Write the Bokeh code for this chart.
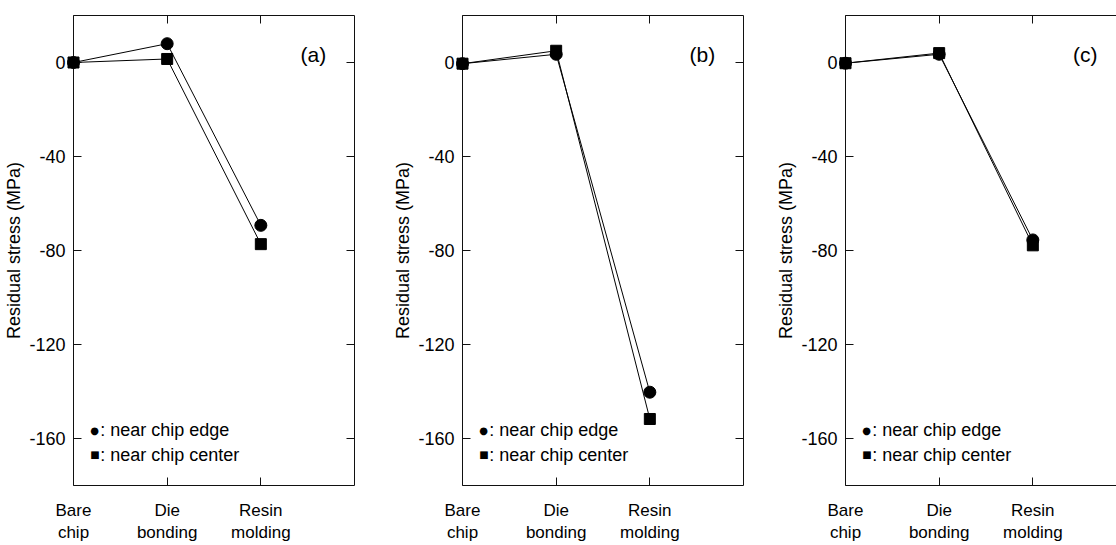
from bokeh.plotting import figure
from bokeh.layouts import row
from bokeh.models import LinearAxis, FixedTicker, Range1d
from bokeh.core.properties import value
from bokeh.embed import file_html
from bokeh.resources import INLINE

# ---- data -------------------------------------------------------------
stages = ["Bare\nchip", "Die\nbonding", "Resin\nmolding"]
stage_x = [0, 1, 2]
panel_tags = ["(a)", "(b)", "(c)"]
edge_a = [0.0, 8.0, -69.3]
center_a = [0.0, 1.5, -77.3]
edge_b = [-0.5, 3.5, -140.3]
center_b = [-0.5, 5.0, -151.7]
edge_c = [-0.3, 3.5, -75.5]
center_c = [-0.3, 4.0, -77.8]
y_ticks = [0, -40, -80, -120, -160]
y_tick_labels = ["0", "-40", "-80", "-120", "-160"]
legend_symbols = ["●", "■"]
legend_labels = [": near chip edge", ": near chip center"]
y_label = "Residual stress (MPa)"

FONT = "Liberation Sans"
AX = "#111111"


def make_panel(tag, edge, center, width, border_right, x_end, right_axis):
    p = figure(width=width, height=545, x_range=Range1d(0, x_end),
               y_range=Range1d(-180, 20), output_backend="svg",
               toolbar_location=None, min_border_left=73,
               min_border_right=border_right, min_border_top=15,
               min_border_bottom=56)
    p.xgrid.visible = False
    p.ygrid.visible = False
    p.outline_line_color = None
    p.background_fill_color = "white"
    p.border_fill_color = "white"

    xa = p.xaxis[0]
    xa.ticker = FixedTicker(ticks=stage_x)
    xa.major_label_overrides = {x: s for x, s in zip(stage_x, stages)}
    xa.major_tick_in = 8
    xa.major_tick_out = 0
    xa.minor_tick_line_color = None
    xa.major_label_standoff = 15
    xa.major_label_text_font = FONT
    xa.major_label_text_font_size = "17px"
    xa.major_label_text_color = "black"
    xa.axis_line_color = AX
    xa.major_tick_line_color = AX

    ya = p.yaxis[0]
    ya.ticker = FixedTicker(ticks=y_ticks)
    ya.major_label_overrides = {t: s for t, s in zip(y_ticks, y_tick_labels)}
    ya.major_tick_in = 8
    ya.major_tick_out = 0
    ya.minor_tick_line_color = None
    ya.major_label_standoff = 8
    ya.major_label_text_font = FONT
    ya.major_label_text_font_size = "18px"
    ya.major_label_text_color = "black"
    ya.axis_label = y_label
    ya.axis_label_text_font = FONT
    ya.axis_label_text_font_size = "18px"
    ya.axis_label_text_font_style = "normal"
    ya.axis_label_text_color = "black"
    ya.axis_label_standoff = 2
    ya.axis_line_color = AX
    ya.major_tick_line_color = AX

    top = LinearAxis(ticker=FixedTicker(ticks=stage_x), major_tick_in=8,
                     major_tick_out=0, minor_tick_line_color=None,
                     major_label_text_color=None, major_label_standoff=0,
                     axis_line_color=AX, major_tick_line_color=AX)
    p.add_layout(top, "above")
    if right_axis:
        rt = LinearAxis(ticker=FixedTicker(ticks=y_ticks), major_tick_in=8,
                        major_tick_out=0, minor_tick_line_color=None,
                        major_label_text_color=None, major_label_standoff=0,
                        axis_line_color=AX, major_tick_line_color=AX)
        p.add_layout(rt, "right")

    p.line(stage_x, edge, line_color="black", line_width=1)
    p.line(stage_x, center, line_color="black", line_width=1)
    r1 = p.scatter(stage_x, edge, marker="circle", size=12, color="black")
    r2 = p.scatter(stage_x, center, marker="square", size=11, color="black")
    r1.level = "overlay"
    r2.level = "overlay"

    p.text(x=[2.56], y=[3.5], text=[tag], text_font=value(FONT),
           text_font_size="21px", text_align="center", text_baseline="middle",
           text_color="black")
    p.text(x=[0.18, 0.18], y=[-156.5, -167.0], text=legend_symbols,
           text_font=value("DejaVu Sans"), text_font_size="10px",
           text_align="left", text_baseline="middle", text_color="black")
    p.text(x=[0.285, 0.285], y=[-156.5, -167.0], text=legend_labels,
           text_font=value(FONT), text_font_size="18px", text_align="left",
           text_baseline="middle", text_color="black")
    return p


pa = make_panel(panel_tags[0], edge_a, center_a, 389, 35, 3.0, True)
pb = make_panel(panel_tags[1], edge_b, center_b, 383, 29, 3.0, True)
pc = make_panel(panel_tags[2], edge_c, center_c, 344, 0, 271 * 3 / 281, False)

layout = row(pa, pb, pc, spacing=0)
open("out.html", "w").write(file_html(layout, INLINE))
